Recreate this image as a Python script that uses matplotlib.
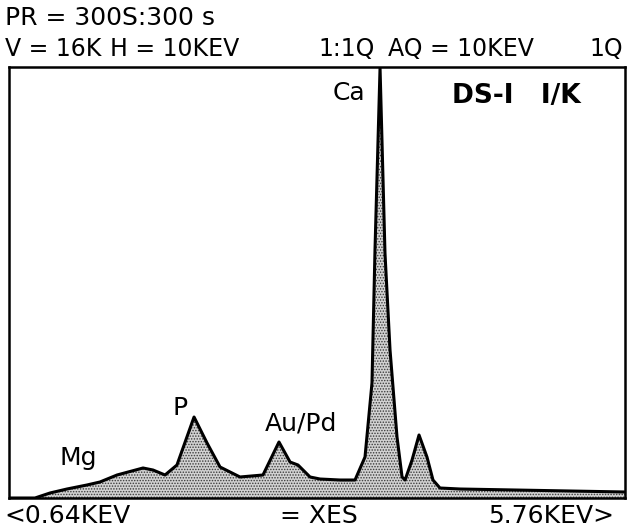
import numpy as np
import matplotlib
matplotlib.use("Agg")
import matplotlib.pyplot as plt

plt.rcParams['font.family'] = ['DejaVu Sans']
plt.rcParams['hatch.color'] = '#3a3a3a'
plt.rcParams['hatch.linewidth'] = 0.7

# spectrum: energy (keV) and counts
energy = [0.64, 0.856, 0.981, 1.122, 1.288, 1.396, 1.538, 1.754, 1.837, 1.937,
          2.036, 2.178, 2.286, 2.394, 2.560, 2.751, 2.884, 2.976, 3.042, 3.142,
          3.225, 3.391, 3.516, 3.599, 3.657, 3.682, 3.724, 3.765, 3.807, 3.865,
          3.907, 3.932, 3.990, 4.048, 4.114, 4.164, 4.222, 4.389, 5.76]
counts = [0, 0, 186, 334, 483, 594, 854, 1114, 1039, 854,
          1225, 3007, 2042, 1151, 780, 854, 2079, 1336, 1225, 780,
          705, 668, 668, 1522, 4269, 9206, 15962, 9094, 5494, 2264,
          780, 668, 1411, 2339, 1522, 668, 371, 334, 223]

peaks = ['Mg', 'P', 'Au/Pd', 'Ca']
peak_pos = [(1.06, 1225), (2.00, 3080), (2.77, 2490), (3.33, 14770)]

e_min, e_max = 0.64, 5.76
v_scale = 16000

fig = plt.figure(figsize=(6.27, 5.30), dpi=100)
ax = fig.add_axes([9 / 627, 32 / 530, 616 / 627, 431 / 530])

ax.fill_between(energy, counts, 0, facecolor='#d2d2d2', hatch='......',
                edgecolor='#3a3a3a', linewidth=0)
ax.plot(energy, counts, color='black', lw=2.2, solid_joinstyle='round')

ax.set_xlim(e_min, e_max)
ax.set_ylim(0, v_scale)
ax.set_xticks([])
ax.set_yticks([])
for s in ax.spines.values():
    s.set_linewidth(1.8)

for name, (x, y) in zip(peaks, peak_pos):
    ax.text(x, y, name, fontsize=18, ha='left', va='baseline')
ax.text(0.719, 0.916, 'DS-I   I/K', transform=ax.transAxes, fontsize=19,
        fontweight='bold', ha='left', va='baseline')

def ftext(x, y, s, size=17):
    fig.text(x / 627, 1 - y / 530, s, fontsize=size, ha='left', va='baseline')

ftext(5, 25, 'PR = 300S:300 s', 18)
ftext(5, 56, 'V = 16K')
ftext(110, 56, 'H = 10KEV')
ftext(318, 56, '1:1Q')
ftext(388, 56, 'AQ = 10KEV')
ftext(589, 56, '1Q')
ftext(4, 523, '<0.64KEV', 18)
ftext(280, 523, '= XES', 18)
ftext(488, 523, '5.76KEV>', 18)

fig.savefig('out.png', dpi=100)
